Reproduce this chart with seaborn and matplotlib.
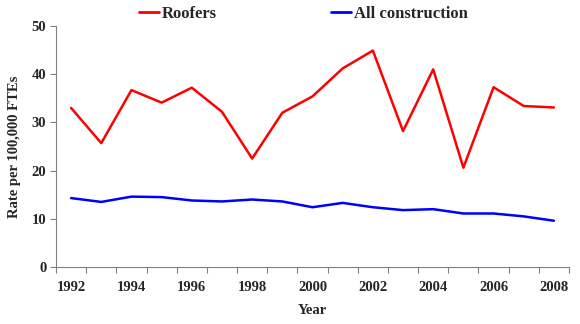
import matplotlib
matplotlib.use("Agg")
import matplotlib.pyplot as plt
import seaborn as sns
import pandas as pd
import numpy as np
from matplotlib.lines import Line2D

years = list(range(1992, 2009))
roofers = [33.0, 25.7, 36.7, 34.1, 37.2, 32.2, 22.5, 32.0, 35.4, 41.2, 44.9, 28.2, 41.0, 20.6, 37.3, 33.4, 33.1]
all_construction = [14.3, 13.5, 14.6, 14.5, 13.8, 13.6, 14.0, 13.6, 12.4, 13.3, 12.4, 11.8, 12.0, 11.1, 11.1, 10.5, 9.6]
series_names = ["Roofers", "All construction"]
colors = ["#ff0000", "#0000ff"]

df = pd.DataFrame({
    "idx": list(range(len(years))) * 2,
    "Year": years * 2,
    "value": roofers + all_construction,
    "series": [series_names[0]] * len(years) + [series_names[1]] * len(years),
})

sns.set_style("white")
plt.rcParams['font.family'] = ['Liberation Serif', 'DejaVu Serif']
plt.rcParams['font.weight'] = 'bold'

fig = plt.figure(figsize=(5.8, 3.24), dpi=100)
ax = fig.add_axes([56/580, 1-267/324, (569-56)/580, (267-26)/324])

sns.lineplot(data=df, x="idx", y="value", hue="series", palette=colors,
             hue_order=series_names, linewidth=1.8, ax=ax, legend=False)

n = len(years)
ax.set_xlim(-0.5, n - 0.5)
ax.set_ylim(0, 50)
ax.set_yticks([0, 10, 20, 30, 40, 50])
ax.set_xticks(np.arange(-0.5, n, 1.0))
ax.set_xticklabels([])
ax.set_xticks(np.arange(0, n, 2), minor=True)
ax.set_xticklabels([str(y) for y in years[::2]], minor=True)
ax.tick_params(axis='x', which='major', bottom=True, length=4, width=0.8, color='#808080', direction='out')
ax.tick_params(axis='x', which='minor', bottom=True, length=0, pad=10, labelsize=10.5)
ax.tick_params(axis='y', left=True, length=4, width=0.8, color='#808080', direction='out', labelsize=10.5, pad=3)
for lbl in ax.get_xticklabels(minor=True) + ax.get_yticklabels():
    lbl.set_fontweight('bold')

for s in ['top', 'right']:
    ax.spines[s].set_visible(False)
for s in ['left', 'bottom']:
    ax.spines[s].set_color('#808080')
    ax.spines[s].set_linewidth(0.8)

ax.set_xlabel("Year", fontsize=10.5, fontweight='bold', labelpad=7)
ax.set_ylabel("Rate per 100,000 FTEs", fontsize=10.5, fontweight='bold', labelpad=8)

handles = [Line2D([0], [0], color=c, lw=2) for c in colors]
fig.legend(handles, series_names, loc='center', bbox_to_anchor=(0.523, 1 - 14/324),
           ncol=2, frameon=False, columnspacing=6.8, handlelength=1.2, handletextpad=0.2,
           prop={'family': 'Liberation Serif', 'weight': 'bold', 'size': 12})

fig.savefig("out.png", dpi=100)
